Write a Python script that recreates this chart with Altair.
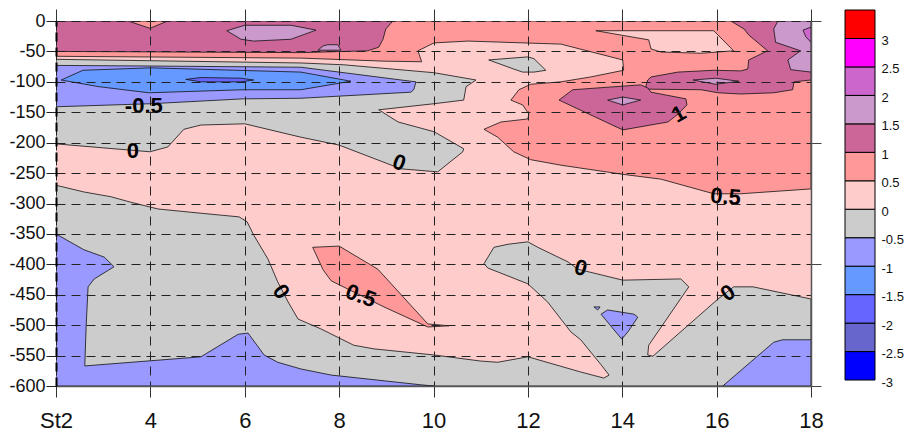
import altair as alt
import pandas as pd

# ---------------- axes / levels ----------------
X_DOMAIN = [2, 18]
Y_DOMAIN = [-600, 0]
X_TICKS = [2, 4, 6, 8, 10, 12, 14, 16, 18]
Y_TICKS = [-600, -550, -500, -450, -400, -350, -300, -250, -200, -150, -100, -50, 0]
RIGHT_TICKS = [-600, -400, -200, 0]

LEVELS = [-3, -2.5, -2, -1.5, -1, -0.5, 0, 0.5, 1, 1.5, 2, 2.5, 3]
LEVEL_COLORS = ["#0000FF", "#6666CC", "#6666FF", "#6699FF", "#9999FF", "#CCCCCC",
                "#FFCCCC", "#FF9999", "#CC6699", "#CC99CC", "#CC66CC", "#FF00FF", "#FF0000"]
CB_DOMAIN = [-3.105, 3.307]

# ---------------- contour regions (x = station, y = depth) ----------------
S_BIG = [(2, 0), (18, 0), (18, -276), (16.51, -284), (15.94, -284), (14.82, -260), (14.01, -252),
         (12.70, -237), (12.06, -228), (11.70, -215), (11.36, -191), (11.07, -178), (11.43, -166),
         (12.00, -161), (12.02, -153), (11.89, -138), (11.64, -130), (11.81, -113), (12.06, -104),
         (12.70, -100), (13.33, -92), (14.03, -81), (14.01, -64), (12.70, -38), (10.73, -33),
         (10.01, -36), (9.88, -41), (9.67, -49), (9.75, -67), (8.95, -66), (7.19, -61), (2, -58)]
PINK_BLOB = [(13.44, -16), (15.94, -16), (16.36, -49), (15.67, -53), (14.82, -51), (14.61, -46), (14.56, -31)]
MAUVE_TL = [(2, 0), (3.53, 0), (3.99, -12), (4.37, 0), (9.14, 0), (8.99, -13), (8.93, -30),
            (8.84, -43), (8.61, -49), (7.19, -52), (2, -50)]
LAV_TL = [(5.62, -16), (6.00, -7), (6.98, -7), (7.51, -15), (6.98, -30), (6.19, -33), (5.92, -30)]
LAV_SMALL = [(7.55, -48), (7.66, -41), (7.76, -39), (7.97, -39), (8.04, -48)]
MAUVE_R = [(16.30, 0), (18, 0), (18, -97), (17.64, -100), (17.61, -113), (17.21, -118), (16.51, -120),
           (16.03, -118), (15.67, -113), (14.52, -112), (14.50, -107), (14.54, -97), (14.61, -92),
           (15.18, -84), (15.94, -81), (16.51, -82), (16.66, -79), (16.68, -64), (17.08, -49),
           (16.68, -23), (16.58, -13)]
LAV_R = [(17.30, 0), (18, 0), (18, -84), (17.57, -80), (17.51, -64), (17.78, -49), (17.25, -35), (17.21, -13)]
ORCHID_R = [(18, -10), (17.83, -15), (17.89, -26), (18, -35)]
LAV_D1 = [(15.50, -97), (15.98, -94), (16.47, -99), (15.98, -104)]
MAUVE_B = [(12.66, -130), (12.95, -113), (14.39, -105), (14.54, -110), (14.61, -117), (15.35, -128),
           (15.37, -138), (15.18, -153), (14.97, -166), (14.01, -179)]
LAV_D2 = [(13.69, -130), (14.01, -125), (14.39, -130), (14.01, -138)]
GRAY_TOP = [(2, -63), (7.19, -69), (8.10, -72), (10.01, -85), (10.90, -97), (10.69, -108), (10.64, -130),
            (10.01, -136), (8.84, -146), (9.25, -166), (10.01, -182), (10.64, -210), (10.62, -215),
            (10.09, -248), (9.31, -243), (8.00, -204), (7.19, -191), (6.00, -169), (5.07, -171),
            (4.71, -178), (4.37, -207), (3.99, -215), (2, -202)]
GRAY_BLOB = [(11.17, -64), (12.00, -59), (12.13, -62), (12.38, -81), (12.13, -84), (11.89, -84), (11.70, -79)]
LB_MID = [(2, -73), (4.01, -74), (7.19, -76), (9.52, -99), (9.63, -100), (9.58, -113), (9.52, -117),
          (7.19, -127), (5.96, -128), (4.01, -136), (2, -141)]
MB_MID = [(2.11, -97), (2.57, -81), (4.01, -77), (7.19, -84), (8.25, -99), (7.19, -113), (5.96, -113),
          (3.97, -118), (2.91, -108)]
DB_SLIVER = [(4.75, -96), (5.07, -93), (5.92, -94), (6.19, -97), (5.92, -100), (5.07, -100)]
GRAY_LOW = [(2, -270), (2.59, -281), (3.17, -289), (3.59, -298), (4.16, -309), (5.07, -316), (5.88, -322),
            (6.05, -330), (6.19, -352), (6.49, -391), (6.70, -429), (6.92, -462), (7.13, -490),
            (7.61, -506), (8.31, -533), (8.74, -539), (10.01, -549), (11.00, -559), (11.36, -561),
            (12.00, -552), (13.12, -577), (13.61, -587), (13.72, -582), (13.55, -565), (13.12, -524),
            (12.91, -511), (12.42, -462), (12.00, -432), (11.15, -406), (11.07, -399), (11.28, -372),
            (11.58, -367), (12.00, -363), (12.21, -372), (12.85, -396), (13.06, -408), (14.01, -426),
            (15.24, -424), (15.41, -437), (14.56, -533), (14.54, -549), (14.65, -551), (16.03, -457),
            (16.36, -437), (16.77, -437), (18, -457), (18, -600), (2, -600)]
LB_BL = [(2, -350), (2.59, -376), (3.02, -388), (3.23, -404), (2.81, -424), (2.68, -437), (2.64, -500),
         (2.61, -567), (5.07, -552), (5.86, -515), (6.07, -513), (6.41, -549), (6.70, -561),
         (7.19, -572), (7.83, -582), (9.73, -598), (10.01, -600), (2, -600)]
LB_BR = [(16.13, -600), (17.21, -528), (17.40, -524), (18, -524), (18, -600)]
LB_SM = [(13.55, -482), (13.69, -475), (14.25, -482), (14.33, -487), (14.12, -511), (13.99, -523)]
LB_TINY = [(13.40, -470), (13.53, -470), (13.48, -475)]
S_MID = [(7.44, -372), (8.00, -370), (8.82, -408), (9.88, -498), (10.33, -501), (9.88, -503),
         (8.95, -470), (7.83, -427), (7.66, -409)]

REGIONS = [
    ("#FF9999", S_BIG), ("#FFCCCC", PINK_BLOB), ("#CC6699", MAUVE_TL), ("#CC99CC", LAV_TL),
    ("#CC99CC", LAV_SMALL), ("#CC6699", MAUVE_R), ("#CC99CC", LAV_R), ("#CC66CC", ORCHID_R),
    ("#CC99CC", LAV_D1), ("#CC6699", MAUVE_B), ("#CC99CC", LAV_D2), ("#CCCCCC", GRAY_TOP),
    ("#CCCCCC", GRAY_BLOB), ("#9999FF", LB_MID), ("#6699FF", MB_MID), ("#6666FF", DB_SLIVER),
    ("#CCCCCC", GRAY_LOW), ("#9999FF", LB_BL), ("#9999FF", LB_BR), ("#9999FF", LB_SM),
    ("#9999FF", LB_TINY), ("#FF9999", S_MID),
]

# contour labels
LABEL_TEXT = ["-0.5", "0", "0", "0.5", "1", "0", "0.5", "0", "0"]
LABEL_X = [3.86, 3.63, 9.27, 16.19, 15.20, 6.77, 8.46, 13.12, 16.24]
LABEL_Y = [-140, -213, -233, -289, -153, -445, -452, -406, -447]
LABEL_ANGLE = [0, 0, 20, 5, 330, 55, 20, 15, 325]

FONT = "Liberation Sans Narrow, Liberation Sans, Arial, sans-serif"

xs = alt.Scale(domain=X_DOMAIN, nice=False, zero=False)
ys = alt.Scale(domain=Y_DOMAIN, nice=False, zero=False)

main_x_axis = alt.Axis(orient="bottom", values=X_TICKS,
                       labelExpr="datum.value == 2 ? 'St2' : toString(datum.value)",
                       tickSize=11, tickColor="#333", domainColor="#555", domainWidth=1.5,
                       labelFont=FONT, labelFontSize=22, labelColor="#111", labelPadding=13,
                       grid=True, gridColor="#222", gridDash=[9, 6], gridWidth=1,
                       title=None, zindex=1, labelFlush=False, labelOverlap=False)
main_y_axis = alt.Axis(orient="left", values=Y_TICKS, labelExpr="toString(datum.value)",
                       tickSize=10, tickColor="#222", domainColor="#000", domainWidth=2,
                       domainDash=[9, 6], labelFont=FONT, labelFontSize=18, labelColor="#111",
                       labelPadding=1, grid=True, gridColor="#222", gridDash=[9, 6], gridWidth=1,
                       title=None, zindex=1, labelFlush=False, labelOverlap=False)
top_axis = alt.Axis(orient="top", values=X_TICKS, labels=False, tickSize=12, tickColor="#333",
                    domain=False, grid=False, title=None, zindex=1)
right_axis = alt.Axis(orient="right", values=RIGHT_TICKS, labels=False, tickSize=10,
                      tickColor="#444", domainColor="#555", domainWidth=1.5, grid=False,
                      title=None, zindex=1)

bg_df = pd.DataFrame({"x": [X_DOMAIN[0]], "x2": [X_DOMAIN[1]], "y": [Y_DOMAIN[0]], "y2": [Y_DOMAIN[1]]})
bg = alt.Chart(bg_df).mark_rect(color="#FFCCCC").encode(
    x=alt.X("x:Q", scale=xs, axis=main_x_axis), x2="x2:Q",
    y=alt.Y("y:Q", scale=ys, axis=main_y_axis), y2="y2:Q")


def poly(color, pts, xaxis=None, yaxis=None):
    ring = list(pts) + [pts[0]]
    df = pd.DataFrame({"x": [p[0] for p in ring], "y": [p[1] for p in ring],
                       "i": list(range(len(ring)))})
    return alt.Chart(df).mark_line(filled=True, fill=color, stroke="#111", strokeWidth=0.8,
                                   clip=True).encode(
        x=alt.X("x:Q", scale=xs, axis=xaxis),
        y=alt.Y("y:Q", scale=ys, axis=yaxis),
        order=alt.Order("i:Q"))


layers = [bg]
for k, (c, pts) in enumerate(REGIONS):
    if k == 0:
        layers.append(poly(c, pts, top_axis, right_axis))
    else:
        layers.append(poly(c, pts))

lab_df = pd.DataFrame({"x": LABEL_X, "y": LABEL_Y, "t": LABEL_TEXT, "a": LABEL_ANGLE})
labels = alt.Chart(lab_df).mark_text(font=FONT, fontSize=22, fontWeight="bold", color="#000",
                                     baseline="middle", align="center").encode(
    x=alt.X("x:Q", scale=xs, axis=None), y=alt.Y("y:Q", scale=ys, axis=None),
    text="t:N", angle=alt.Angle("a:Q", scale=None))
layers.append(labels)

main = alt.layer(*layers).resolve_axis(x="independent", y="independent").properties(
    width=755, height=365)

cb_df = pd.DataFrame({"lo": LEVELS, "hi": [v + 0.5 for v in LEVELS], "c": LEVEL_COLORS})
cbar = alt.Chart(cb_df).mark_rect(stroke="#000", strokeWidth=1).encode(
    x=alt.value(0), x2=alt.value("width"),
    y=alt.Y("lo:Q", scale=alt.Scale(domain=CB_DOMAIN, nice=False, zero=False),
            axis=alt.Axis(orient="right", values=LEVELS, labelExpr="toString(datum.value)",
                          ticks=False, domain=False, grid=False, labelPadding=6,
                          labelFontSize=13, labelFont="Liberation Sans", labelColor="#111",
                          title=None, labelOffset=2, labelFlush=False, labelOverlap=False)),
    y2="hi:Q",
    color=alt.Color("c:N", scale=None)).properties(width=30, height=365)

chart = alt.hconcat(main, cbar, spacing=34, bounds="flush").properties(
    padding={"left": 0, "top": 0, "right": 0, "bottom": 0}
).configure_view(stroke=None)

chart.save("out.html", embed_options={"renderer": "svg", "actions": False})
